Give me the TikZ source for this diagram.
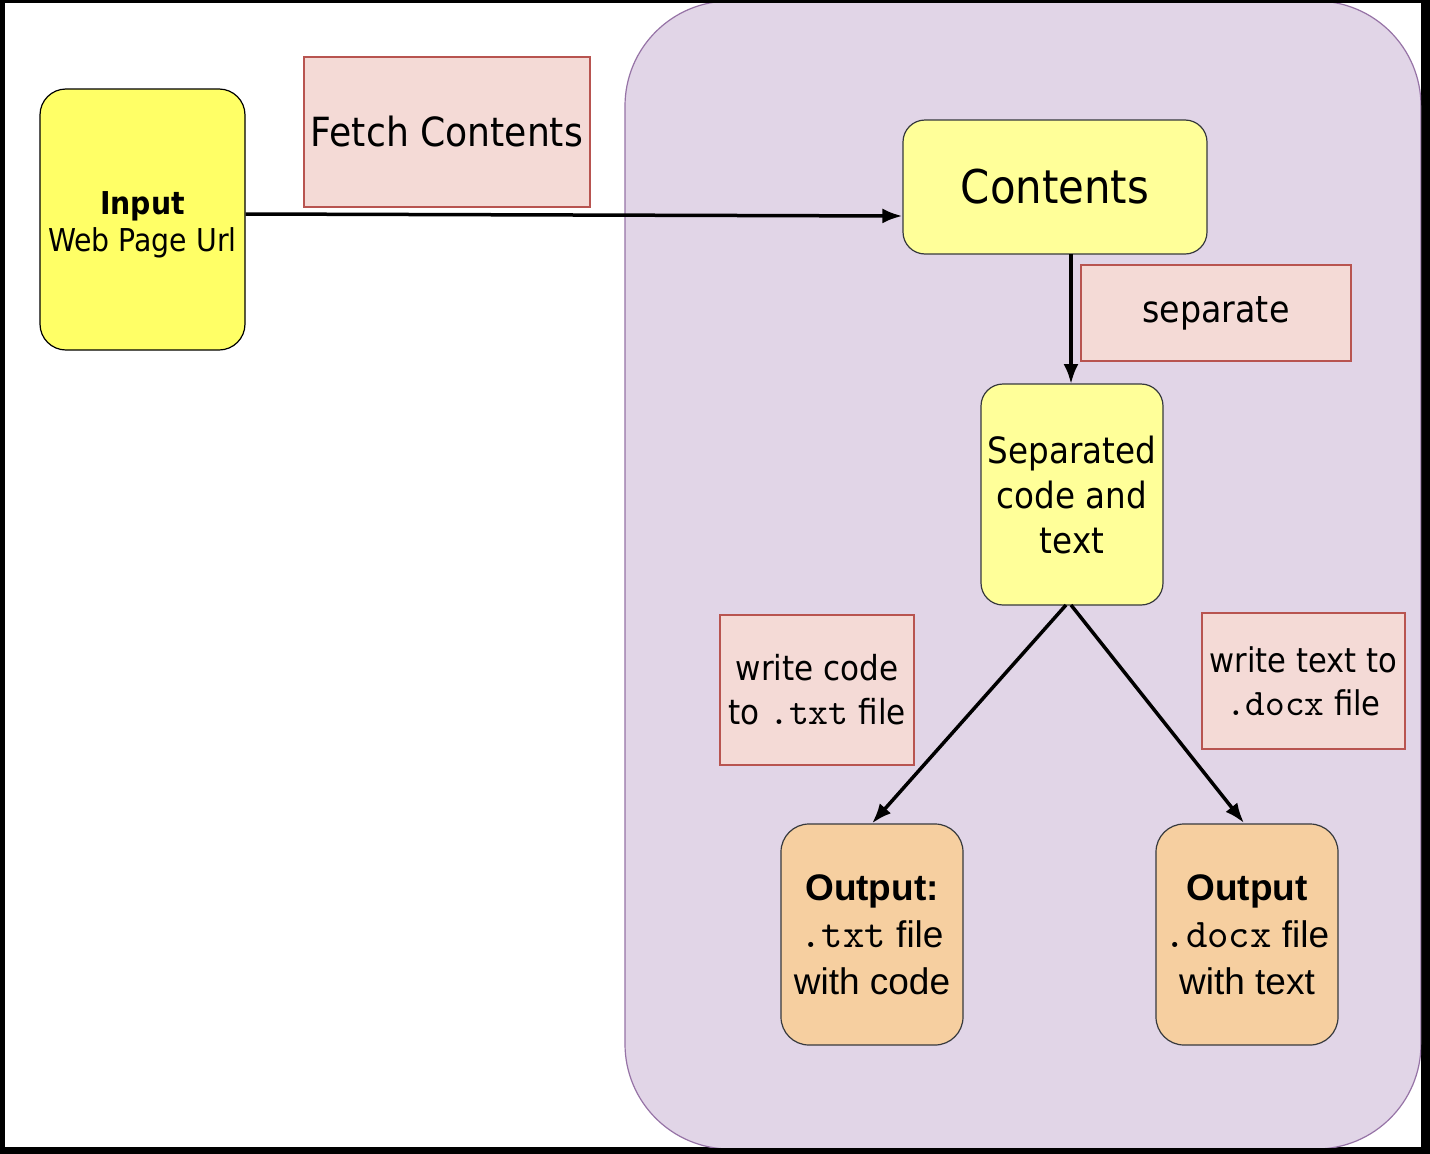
\documentclass[tikz,border=0pt]{standalone}
\usepackage{fontspec}
\setmainfont{DejaVu Sans Condensed}
\setmonofont{lmmono10-regular.otf}[Scale=1.1]
\newfontfamily\arialf{Liberation Sans}
\usetikzlibrary{arrows.meta}
\definecolor{purplefill}{HTML}{E1D5E7}
\definecolor{purpledraw}{HTML}{9673A6}
\definecolor{pinkfill}{HTML}{F4DAD6}
\definecolor{pinkdraw}{HTML}{B85450}
\definecolor{yelA}{HTML}{FFFF66}
\definecolor{yelB}{HTML}{FFFF99}
\definecolor{orangefill}{HTML}{F6CFA0}
\definecolor{boxdraw}{HTML}{36393D}
\tikzset{
  labelbox/.style={draw=pinkdraw, fill=pinkfill, line width=1.2pt, inner sep=0pt, align=center},
  yellowbox/.style={draw=boxdraw, fill=yelB, line width=1.2pt, rounded corners=22pt, inner sep=0pt, align=center},
  outbox/.style={draw=boxdraw, fill=orangefill, line width=1.2pt, rounded corners=28pt, inner sep=0pt, align=center},
  conn/.style={line width=3.5pt, -{Latex[length=20pt,width=15pt]}},
}
\newcommand{\mono}[1]{{\ttfamily #1}}
\begin{document}
\begin{tikzpicture}[x=1pt,y=-1pt]
\useasboundingbox (0,0) rectangle (1430,1154);
\fill[black] (0,0) rectangle (1430,1154);
\fill[white] (5,3) rectangle (1421,1147);
\begin{scope}
\clip (5,3) rectangle (1421,1147);
\draw[fill=purplefill, draw=purpledraw, line width=1.2pt, rounded corners=105pt] (625,1) rectangle (1421,1149);
\end{scope}
\node[draw=black, fill=yelA, line width=1.2pt, rounded corners=26pt, minimum width=205pt, minimum height=261pt, inner sep=0pt] (input) at (142.5,219.5) {};
\node[inner sep=0pt, align=center, font=\fontsize{31.5}{37}\selectfont] (inputtext) at ([yshift=-5pt]input.center) {\textbf{Input}\\Web Page Url};
\node[labelbox, minimum width=286pt, minimum height=150pt, font=\fontsize{40.2}{48}\selectfont] (fetch) at (447,132) {Fetch Contents};
\node[yellowbox, minimum width=304pt, minimum height=134pt, font=\fontsize{46.5}{56}\selectfont] (contents) at (1055,187) {Contents};
\node[labelbox, minimum width=270pt, minimum height=96pt, font=\fontsize{37}{44}\selectfont] (separate) at (1216,313) {separate};
\node[yellowbox, minimum width=182pt, minimum height=221pt, font=\fontsize{36.2}{45}\selectfont] (sep) at (1072,494.5) {Separated\\code and\\text};
\node[labelbox, minimum width=194pt, minimum height=150pt, font=\fontsize{34.5}{44}\selectfont] (wcode) at (817,690) {write code\\to \mono{.txt} file};
\node[labelbox, minimum width=203pt, minimum height=136pt, font=\fontsize{34}{43}\selectfont] (wtext) at (1303.5,681) {write text to\\\mono{.docx} file};
\node[outbox, minimum width=182pt, minimum height=221pt, font=\arialf\fontsize{37}{47}\selectfont] (out1) at (872,934.5) {\textbf{Output:}\\\mono{.txt} file\\with code};
\node[outbox, minimum width=182pt, minimum height=221pt, font=\arialf\fontsize{37}{47}\selectfont] (out2) at (1247,934.5) {\textbf{Output}\\\mono{.docx} file\\with text};
\coordinate (cs) at (1071,254);
\coordinate (st) at (1071,384);
\draw[conn] (input.east |- 0,214) -- (contents.west |- 0,216);
\draw[conn] (cs) -- (st);
\coordinate (sb1) at (1066,605);
\coordinate (sb2) at (1071,605);
\draw[conn] (sb1) -- (out1.north);
\draw[conn] (sb2) -- (1244,823);
\end{tikzpicture}
\end{document}
